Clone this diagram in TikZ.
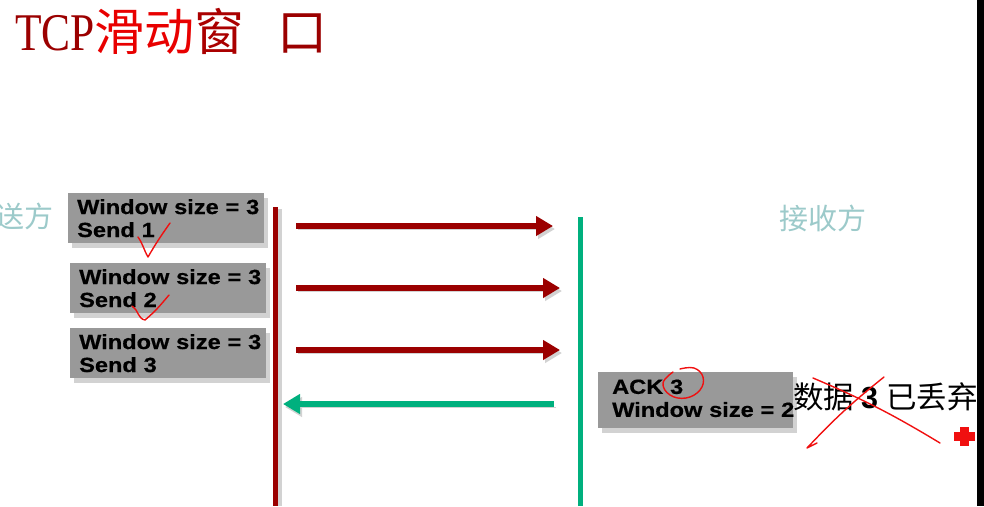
\documentclass[tikz,border=0pt]{standalone}
\usepackage{fontspec}
\setmainfont{Liberation Serif}
\setsansfont{Liberation Sans}
\newfontfamily\cjk{Noto Sans CJK SC}
\newfontfamily\boxfont{Liberation Sans}[FakeStretch=1.15,FakeBold=0.6]
\newfontfamily\titlefont{Liberation Serif}[FakeStretch=0.82]
\usetikzlibrary{arrows.meta,positioning,shadows}

\begin{document}
\begin{tikzpicture}[x=1pt,y=-1pt,
    winbox/.style={rectangle,fill=boxGrey,anchor=north west,minimum width=196pt,minimum height=50pt,
      inner xsep=9pt,text width=178pt,align=left,font=\boxfont\bfseries\fontsize{20.5}{23}\selectfont,
      drop shadow={shadow xshift=4pt,shadow yshift=-5pt,fill=shadowGrey,opacity=1}},
    msg/.style={line width=6pt,-{Triangle[length=17pt,width=19pt]},
      preaction={draw=shadowGrey,transform canvas={shift={(2pt,-3pt)}}}},
    lifeline/.style={line width=5pt},
    sidelabel/.style={anchor=base west,text=sideTeal,font=\cjk\fontsize{29}{30}\selectfont},
    redmark/.style={draw=markRed,line width=1.4pt,line cap=round,line join=round}]
  \definecolor{darkRed}{HTML}{9B0000}
  \definecolor{titleRed}{HTML}{E80000}
  \definecolor{ackGreen}{HTML}{00B07E}
  \definecolor{boxGrey}{HTML}{999999}
  \definecolor{shadowGrey}{HTML}{D2D2D2}
  \definecolor{sideTeal}{HTML}{9CCACA}
  \definecolor{markRed}{HTML}{F01010}

  \useasboundingbox (0,0) rectangle (984,506);

  % title
  \node[anchor=base west,inner sep=0pt] (title) at (15,50)
    {\color{darkRed}\titlefont\fontsize{53}{56}\selectfont TCP\cjk\fontsize{50}{52}\selectfont
     \color{titleRed}滑动\color{darkRed!80!titleRed}窗\hspace{33pt}\color{darkRed}口};

  % sides
  \node[sidelabel,inner sep=0pt] (sender) at (-5,227) {送方};
  \node[sidelabel,inner sep=0pt] (receiver) at (779,229) {接收方};

  % lifelines
  \coordinate (sTop) at (275.5,207);
  \coordinate (sBot) at (275.5,506);
  \coordinate (rTop) at (580.5,217);
  \coordinate (rBot) at (580.5,506);
  \draw[lifeline,shadowGrey] ([xshift=3.5pt,yshift=-2pt]sTop) -- ([xshift=3.5pt]sBot);
  \draw[lifeline,darkRed] (sTop) -- (sBot);
  \draw[lifeline,ackGreen] (rTop) -- (rBot);

  % windows
  \node[winbox] (win1) at (68,193) {Window~size~=~3\\Send 1};
  \node[winbox] (win2) at (70,263) {Window~size~=~3\\Send 2};
  \node[winbox] (win3) at (70,328) {Window~size~=~3\\Send 3};
  \node[winbox,minimum width=195pt,minimum height=56pt,inner xsep=14pt,text width=167pt] (ack) at (598,372)
    {ACK 3\\Window~size~=~2\rule[-4pt]{0pt}{0pt}};

  % segments
  \coordinate (out1) at (296,226);  \coordinate (in1) at (553,226);
  \coordinate (out2) at (296,288);  \coordinate (in2) at (560,288);
  \coordinate (out3) at (296,350);  \coordinate (in3) at (560,350);
  \coordinate (ackOut) at (554,404); \coordinate (ackIn) at (283,404);
  \draw[msg,darkRed] (out1) -- (in1);
  \draw[msg,darkRed] (out2) -- (in2);
  \draw[msg,darkRed] (out3) -- (in3);
  \draw[msg,ackGreen] (ackOut) -- (ackIn);

  \node[anchor=base west,inner sep=0pt,font=\fontsize{30.5}{32}\selectfont] (lost) at (793,408)
    {\cjk 数据 \sffamily\bfseries 3 \cjk\mdseries 已丢弃};

  % marks
  \draw[redmark] (138,237) to[out=-55,in=120] (148,257) to[out=60,in=-125] (170,223);
  \draw[redmark] (132,306) to[out=-30,in=170] (145,320) to[out=40,in=-130] (169,295);
  \draw[redmark] plot[smooth,tension=0.7] coordinates
    {(673,372) (663,383) (670,395) (686,398) (700,390) (703,377) (694,368) (680,369)};
  \draw[redmark] (813,378) to[bend left=4] (940,443);
  \draw[redmark] (884,377) to[bend right=4] (807,448) -- (817,443);
  \fill[markRed] (960,427) rectangle (969,446);
  \fill[markRed] (954,432) rectangle (975,441);

  \fill[black] (977,0) rectangle (984,506);
\end{tikzpicture}
\end{document}
